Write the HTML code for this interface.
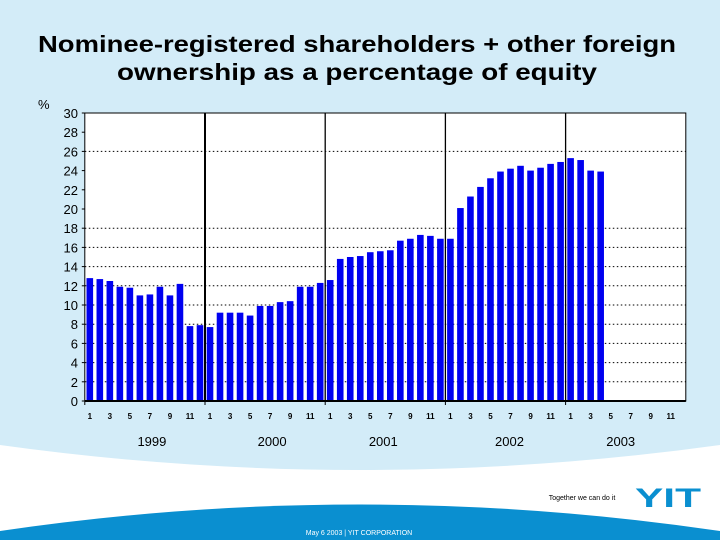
<!DOCTYPE html>
<html><head><meta charset="utf-8"><style>
html,body{margin:0;padding:0;width:720px;height:540px;overflow:hidden;background:#d3ecf8;font-family:"Liberation Sans",sans-serif}
</style></head><body>
<svg id="chart" width="720" height="540" xmlns="http://www.w3.org/2000/svg">
<rect x="0" y="0" width="720" height="540" fill="#d3ecf8"/>
<path d="M0,445 Q360,495 720,445 L720,540 L0,540 Z" fill="#ffffff"/>
<path d="M0,531 Q360,478 720,531 L720,540 L0,540 Z" fill="#0a8fd0"/>
<text x="38" y="52" textLength="638" lengthAdjust="spacingAndGlyphs" font-size="23" font-weight="bold" fill="#000">Nominee-registered shareholders + other foreign</text>
<text x="117" y="80" textLength="480" lengthAdjust="spacingAndGlyphs" font-size="23" font-weight="bold" fill="#000">ownership as a percentage of equity</text>
<text x="38" y="109" font-size="13" fill="#000">%</text>
<rect x="84.8" y="113" width="601" height="288" fill="#fff"/>
<g id="grid"></g><g id="bars"></g><g id="axes"></g>
<text x="582" y="500" font-size="7" fill="#000" text-anchor="middle">Together we can do it</text>
<text x="635" y="507" textLength="66" lengthAdjust="spacingAndGlyphs" font-size="27" font-weight="bold" fill="#0a8fd0">YIT</text>
<text x="359" y="535" font-size="7" fill="#fff" text-anchor="middle">May 6 2003   |   YIT CORPORATION</text>
</svg>
<script>
const years = ["1999","2000","2001","2002","2003"];
const monthTicks = ["1","3","5","7","9","11"];
const yTicks = [0,2,4,6,8,10,12,14,16,18,20,22,24,26,28,30];
const gridValues = [2,4,6,8,10,12,14,16,18,26];
const values1999 = [12.8,12.7,12.5,11.9,11.8,11.0,11.1,11.9,11.0,12.2,7.8,7.9];
const values2000 = [7.7,9.2,9.2,9.2,8.9,9.9,9.9,10.3,10.4,11.9,11.9,12.3];
const values2001 = [12.6,14.8,15.0,15.1,15.5,15.6,15.7,16.7,16.9,17.3,17.2,16.9];
const values2002 = [16.9,20.1,21.3,22.3,23.2,23.9,24.2,24.5,24.0,24.3,24.7,24.9];
const values2003 = [25.3,25.1,24.0,23.9];
const values = [].concat(values1999,values2000,values2001,values2002,values2003);
const NS="http://www.w3.org/2000/svg";
const X0=84.8, X1=685.8, Y0=401, Y1=113, MONTHS=60, YMAX=30;
const yearLabelOffset=[7,7,-2,4,-5];
const mw=(X1-X0)/MONTHS;
function xm(i){return X0+i*mw;}
function yv(v){return Y0-(v/YMAX)*(Y0-Y1);}
function mk(tag,attrs,parent){const e=document.createElementNS(NS,tag);for(const k in attrs)e.setAttribute(k,attrs[k]);parent.appendChild(e);return e;}
const grid=document.getElementById('grid'),bars=document.getElementById('bars'),axes=document.getElementById('axes');
gridValues.forEach(v=>{const l=mk('line',{x1:X0,x2:X1,y1:yv(v),y2:yv(v),stroke:'#000','stroke-width':1,'stroke-dasharray':'1.5,2.5'},grid);

});
values.forEach((v,i)=>{const r=mk('rect',{x:xm(i)+mw/2-3.3,y:yv(v),width:6.6,height:Y0-yv(v),fill:'#0000f0'},bars);

});
for(let y=1;y<years.length;y++){const l=mk('line',{x1:xm(y*12),x2:xm(y*12),y1:Y1,y2:Y0,stroke:'#000','stroke-width':y==1?2:1.3},axes);

}
const fr=mk('rect',{x:X0,y:Y1,width:X1-X0,height:Y0-Y1,fill:'none',stroke:'#000','stroke-width':1},axes);


const xa=mk('line',{x1:X0,x2:X1,y1:Y0,y2:Y0,stroke:'#000','stroke-width':2},axes);


yTicks.forEach(v=>{const t=mk('text',{x:78,y:yv(v)+5,'text-anchor':'end','font-size':13,fill:'#000'},axes);t.textContent=v;


const tk=mk('line',{x1:X0-3,x2:X0,y1:yv(v),y2:yv(v),stroke:'#000'},axes);

});
years.forEach((yr,y)=>{
 monthTicks.forEach(m=>{const i=y*12+(+m)-1;const t=mk('text',{x:xm(i)+mw/2,y:419,'text-anchor':'middle','font-size':8,'font-weight':'bold',fill:'#000'},axes);t.textContent=m;
 
 });
 const t=mk('text',{x:xm(y*12+6)+yearLabelOffset[y],y:446,'text-anchor':'middle','font-size':13,fill:'#000'},axes);t.textContent=yr;
 
 
 const tk=mk('line',{x1:xm(y*12),x2:xm(y*12),y1:Y0,y2:Y0+4,stroke:'#000'},axes);
 
 
});
</script>
</body></html>
